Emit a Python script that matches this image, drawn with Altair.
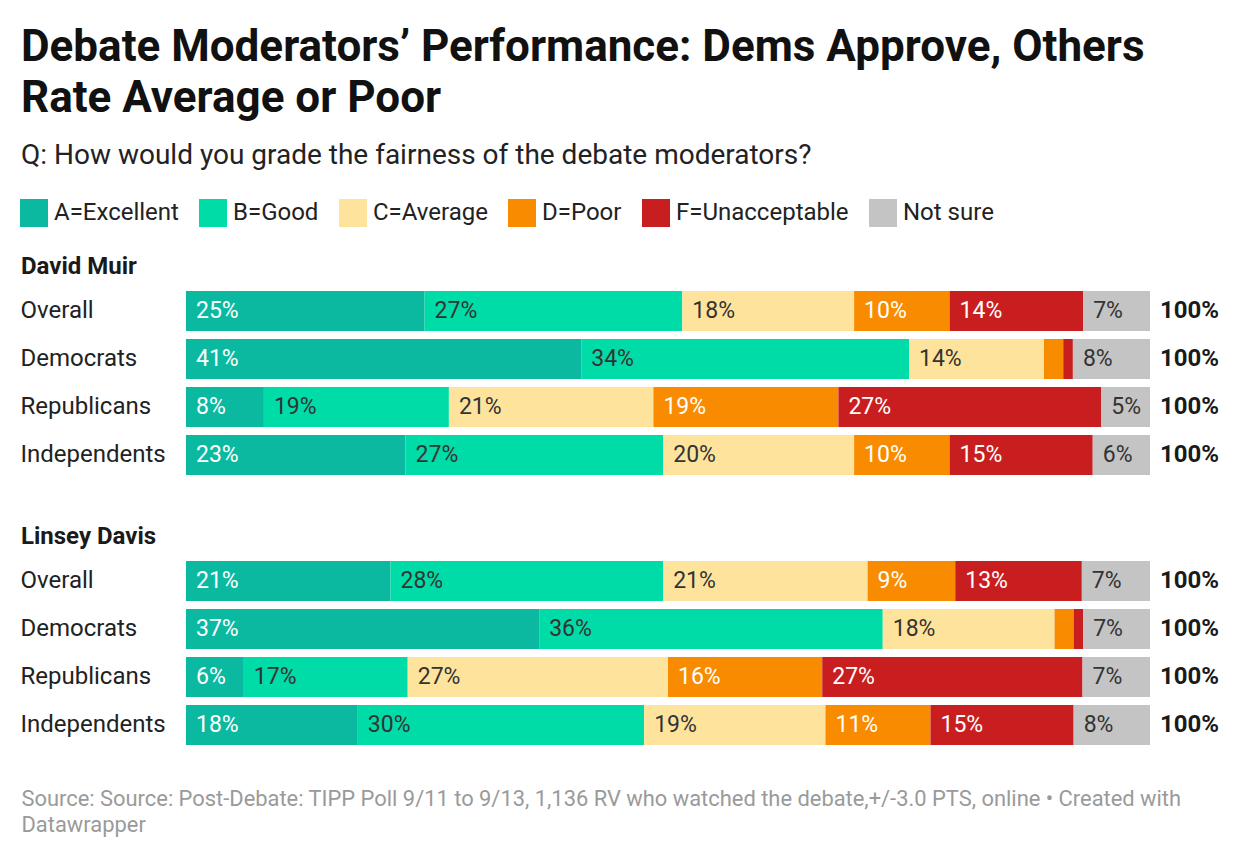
import altair as alt
import pandas as pd

categories = ["A=Excellent", "B=Good", "C=Average", "D=Poor", "F=Unacceptable", "Not sure"]
colors = ["#0bb9a0", "#00dca7", "#fee39c", "#f98b00", "#c91e1f", "#c4c4c4"]
groups = ["Overall", "Democrats", "Republicans", "Independents"]

muir_excellent = [25, 41, 8, 23]
muir_good = [27, 34, 19, 27]
muir_average = [18, 14, 21, 20]
muir_poor = [10, 2, 19, 10]
muir_unacceptable = [14, 1, 27, 15]
muir_notsure = [7, 8, 5, 6]

davis_excellent = [21, 37, 6, 18]
davis_good = [28, 36, 17, 30]
davis_average = [21, 18, 27, 19]
davis_poor = [9, 2, 16, 11]
davis_unacceptable = [13, 1, 27, 15]
davis_notsure = [7, 7, 7, 8]

title_lines = ["Debate Moderators’ Performance: Dems Approve, Others", "Rate Average or Poor"]
subtitle = "Q: How would you grade the fairness of the debate moderators?"
source_lines = [
    "Source: Source: Post-Debate: TIPP Poll 9/11 to 9/13, 1,136 RV who watched the debate,+/-3.0 PTS, online • Created with",
    "Datawrapper",
]


def make_df(series):
    rows = []
    for ci, (cat, vals) in enumerate(zip(categories, series)):
        for g, v in zip(groups, vals):
            rows.append({"group": g, "cat": cat, "order": ci, "value": v})
    return pd.DataFrame(rows)


muir_df = make_df([muir_excellent, muir_good, muir_average, muir_poor, muir_unacceptable, muir_notsure])
davis_df = make_df([davis_excellent, davis_good, davis_average, davis_poor, davis_unacceptable, davis_notsure])

FONT = "Roboto"
LABEL_COL = 169  # px reserved left of the bars for row labels
BAR_W = 964

legend = alt.Legend(
    orient="top", direction="horizontal", title=None,
    symbolType="M-0.786,-1H1.214V1H-0.786Z", symbolSize=784, symbolStrokeWidth=0,
    symbolOpacity=1, labelFontSize=24, labelColor="#222", labelFont=FONT,
    labelOffset=9, columnPadding=17, offset=28, labelLimit=400,
)


def make_panel(df, header, x_axis):
    base = (
        alt.Chart(df)
        .transform_joinaggregate(total="sum(value)", groupby=["group"])
        .transform_calculate(frac="datum.value / datum.total")
        .transform_window(cum="sum(frac)", sort=[alt.SortField("order")], groupby=["group"], frame=[None, 0])
        .transform_calculate(start="datum.cum - datum.frac", label="datum.value + '%'")
    )
    y = alt.Y(
        "group:N", sort=groups,
        scale=alt.Scale(paddingInner=1 / 6, paddingOuter=1 / 12),
        axis=alt.Axis(title=None, domain=False, ticks=False, labelAlign="left",
                      labelPadding=-3, labelFontSize=24, labelColor="#222", labelFont=FONT),
    )
    xs = alt.Scale(domain=[-LABEL_COL / BAR_W, 1])
    bars = base.mark_bar().encode(
        x=alt.X("start:Q", scale=xs, axis=x_axis),
        x2="cum:Q",
        y=y,
        color=alt.Color("cat:N", scale=alt.Scale(domain=categories, range=colors), sort=categories, legend=legend),
    )
    labels = base.transform_filter("datum.value >= 4").mark_text(
        align="left", baseline="middle", dx=10, fontSize=23, font=FONT
    ).encode(
        x=alt.X("start:Q", scale=xs, axis=x_axis),
        y=y,
        text="label:N",
        color=alt.condition(
            "datum.cat == 'A=Excellent' || datum.cat == 'D=Poor' || datum.cat == 'F=Unacceptable'",
            alt.value("#ffffff"), alt.value("#333333")),
    )
    totals = (
        base.transform_aggregate(end="sum(frac)", groupby=["group"])
        .transform_calculate(tlabel="format(round(datum.end * 100), 'd') + '%'")
        .mark_text(align="left", baseline="middle", dx=10, fontSize=24, fontWeight="bold", font=FONT, color="#1a1a1a")
        .encode(x=alt.X("end:Q", scale=xs, axis=x_axis), y=y, text="tlabel:N")
    )
    return alt.layer(bars, labels, totals).properties(
        width=LABEL_COL + BAR_W, height=192,
        title=alt.TitleParams(header, anchor="start", fontSize=24, fontWeight="bold",
                              color="#1a1a1a", font=FONT, offset=8, dx=4),
    )


no_axis = None
src_axis = alt.Axis(
    title=source_lines, domain=False, ticks=False, labels=False, grid=False,
    titleX=4, titleAlign="left", titleAnchor="start", titleFontSize=21.9,
    titleFontWeight="normal", titleColor="#9a9a9a", titleFont=FONT,
    titleLineHeight=26, titlePadding=39, titleBaseline="top",
)

p1 = make_panel(muir_df, "David Muir", no_axis)
p2 = make_panel(davis_df, "Linsey Davis", src_axis)

chart = alt.vconcat(p1, p2, spacing=46).properties(
    title=alt.TitleParams(
        title_lines, subtitle=subtitle, anchor="start", fontSize=44, fontWeight="bold",
        font=FONT, color="#111111", lineHeight=51, subtitleFontSize=28,
        subtitleColor="#222222", subtitleFont=FONT, subtitlePadding=21, offset=29, dx=4,
    ),
    padding={"left": 9, "top": 18, "right": 10, "bottom": 10},
).configure(font=FONT).configure_view(stroke=None)

chart.save("out.html", embed_options={"renderer": "svg", "actions": False})
